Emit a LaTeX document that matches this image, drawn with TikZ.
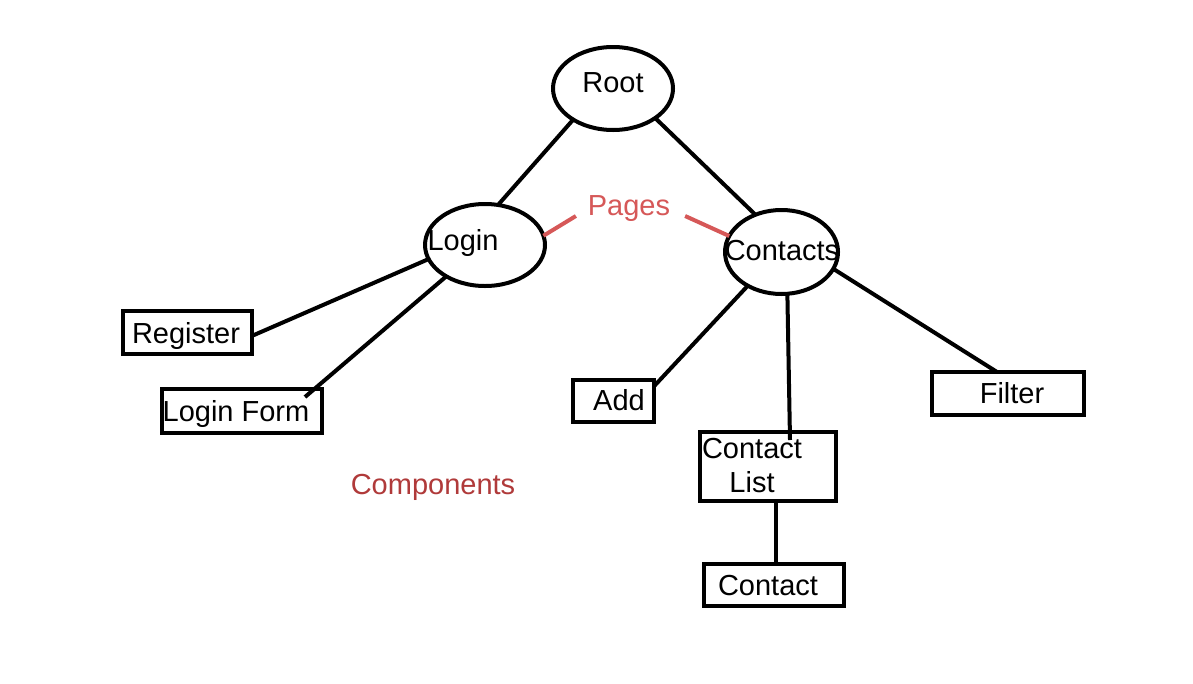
\documentclass[tikz,border=0pt]{standalone}
\usepackage{fontspec}
\setmainfont{Liberation Sans}
\usetikzlibrary{shapes.geometric}
\definecolor{pagered}{RGB}{214,88,88}
\definecolor{compred}{RGB}{176,58,58}
\begin{document}
\begin{tikzpicture}[x=1pt,y=-1pt,
  txt/.style={inner sep=0pt,outer sep=0pt,text height=0.716em,text depth=0pt,anchor=center,font=\fontsize{29}{34}\selectfont},
  oval/.style={draw,ellipse,line width=4pt,inner sep=0pt,outer sep=0pt},
  box/.style={draw,rectangle,line width=4pt,inner sep=0pt,outer sep=0pt},
  link/.style={line width=4pt},
  redlink/.style={line width=4pt,draw=pagered}]
\useasboundingbox[fill=white] (0,0) rectangle (1193,683);

% ellipses
\node[oval,minimum width=120pt,minimum height=83pt] (root) at (613,88.5) {};
\node[oval,minimum width=120pt,minimum height=82pt] (login) at (485,245) {};
\node[oval,minimum width=113pt,minimum height=84pt] (contacts) at (781.5,252) {};

% boxes
\node[box,minimum width=129pt,minimum height=43pt] (register) at (187.5,332.5) {};
\node[box,minimum width=160pt,minimum height=44pt] (loginform) at (242,411) {};
\node[box,minimum width=81pt,minimum height=42pt] (add) at (613.5,401) {};
\node[box,minimum width=136pt,minimum height=69pt] (contactlist) at (768,466.5) {};
\node[box,minimum width=152pt,minimum height=43pt] (filter) at (1008,393.5) {};
\node[box,minimum width=140pt,minimum height=42pt] (contact) at (774,585) {};

% texts
\node[txt] (t-root) at (613,89) {Root};
\node[txt] (t-login) at (463,247) {Login};
\node[txt] (t-contacts) at (782,257) {Contacts};
\node[txt] (t-register) at (186,340) {Register};
\node[txt] (t-loginform) at (236,418) {Login Form};
\node[txt] (t-add) at (619,407) {Add};
\node[txt] (t-contact1) at (752,455) {Contact};
\node[txt] (t-list) at (752,489) {List};
\node[txt] (t-filter) at (1012,400) {Filter};
\node[txt] (t-contact) at (768,592) {Contact};
\node[txt,text=pagered] (pages) at (629,212) {Pages};
\node[txt,text=compred] (components) at (433,491) {Components};

% free ends inside boxes
\coordinate (lfend) at (305,397);
\coordinate (clend) at (790,440);

% connectors
\draw[link] (root.218.7) -- (login.72.8);
\draw[link] (root.-35.2) -- (contacts.125.2);
\draw[link] (login.194.3) -- (register.-3.9);
\draw[link] (login.219.3) -- (lfend);
\draw[link] (contacts.225.4) -- (add.20.6);
\draw[link] (contacts.-82.9) -- (clend);
\draw[link] (contacts.-18.6) -- (filter.117);
\draw[link] ([xshift=8pt]contactlist.south) -- ([xshift=2pt]contact.north);

% red lines
\draw[redlink] (login.9.2) -- ([xshift=-12pt,yshift=-4pt]pages.west);
\draw[redlink] ([xshift=15pt,yshift=-4pt]pages.east) -- (contacts.163.6);
\end{tikzpicture}
\end{document}
